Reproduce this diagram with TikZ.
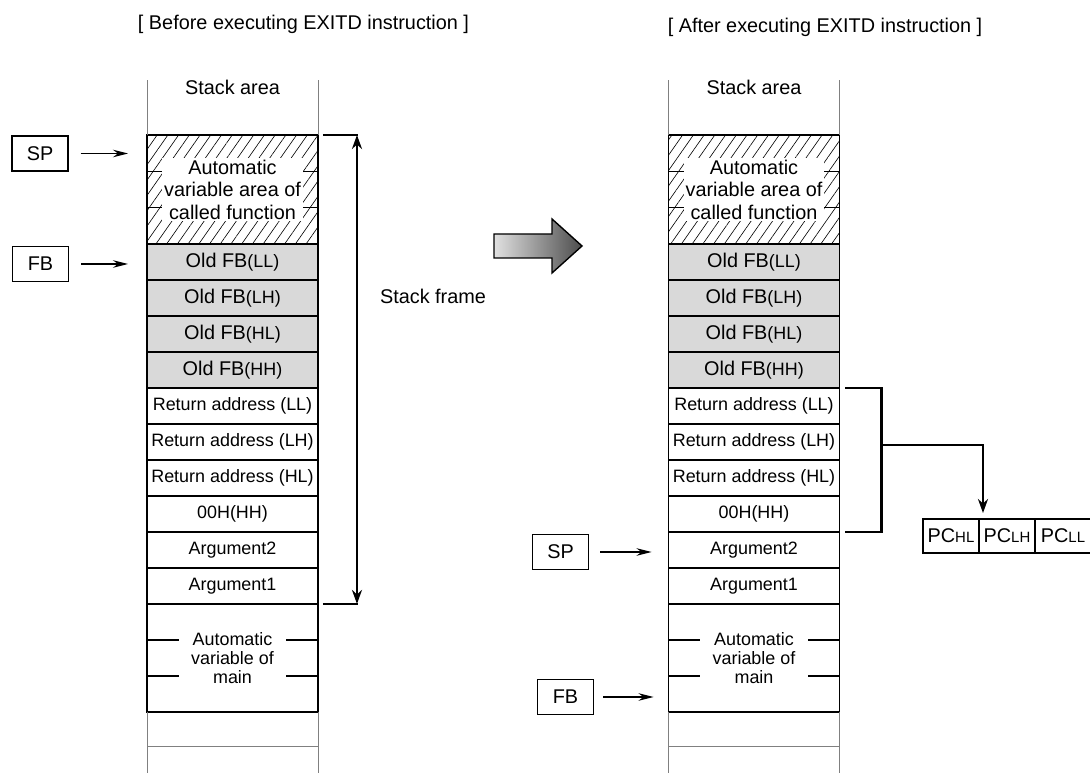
\documentclass[tikz,border=0pt]{standalone}
\usepackage{fontspec}
\setmainfont{Liberation Sans}
\usetikzlibrary{positioning,arrows.meta,calc,patterns.meta}

\newcommand\bigtxt{\fontsize{11.3}{12.8}\selectfont}
\newcommand\smalltxt{\fontsize{10.2}{10.8}\selectfont}
\newcommand\subtxt{\fontsize{8.5}{10}\selectfont}

\begin{document}
\begin{tikzpicture}[
    x=0.02cm, y=-0.02cm,
    font=\bigtxt,
    cell/.style={
        draw,
        line width=0.8pt,
        outer sep=0pt,
        inner sep=0pt,
        minimum width=3.42cm,
        minimum height=0.72cm,
        font=\smalltxt
    },
    oldcell/.style={cell, fill=black!15, font=\bigtxt},
    hatchcell/.style={
        cell,
        minimum height=2.18cm,
        pattern={Lines[angle=55,distance=5pt,line width=0.35pt]}
    },
    maincell/.style={cell, minimum height=2.16cm},
    coverbox/.style={fill=white, align=center, inner sep=1pt, minimum width=#1},
    coverbox/.default=2.8cm,
    regbox/.style={
        draw,
        line width=0.6pt,
        inner sep=0pt,
        minimum width=1.12cm,
        minimum height=0.7cm
    },
    pccell/.style={
        draw,
        line width=0.8pt,
        outer sep=0pt,
        inner sep=0pt,
        minimum width=1.12cm,
        minimum height=0.68cm
    },
    rail/.style={draw=black!50, line width=0.5pt},
    ptr/.style={-{Stealth[length=3mm,width=1.5mm]}, line width=0.8pt},
    tick/.style={line width=1.5pt},
    framearrow/.style={{Stealth[length=2.8mm,width=2mm]}-{Stealth[length=2.8mm,width=2mm]}, line width=1.5pt},
    pcarrow/.style={-{Stealth[length=2.8mm,width=2mm]}, line width=1.5pt}
]
\useasboundingbox (0,0) rectangle (1090,773);

% titles
\node (ltitle) at (303.5,24) {[ Before executing EXITD instruction ]};
\node (rtitle) at (825,27) {[ After executing EXITD instruction ]};

% ---- stack before EXITD
\node (lhead) at (232.5,87) {Stack area};
\node[hatchcell] (lcalled) at (232.5,189.5) {};
\draw[line width=0.8pt] ($(lcalled.north west)!1/3!(lcalled.south west)$) -- ($(lcalled.north east)!1/3!(lcalled.south east)$);
\draw[line width=0.8pt] ($(lcalled.north west)!2/3!(lcalled.south west)$) -- ($(lcalled.north east)!2/3!(lcalled.south east)$);
\node[coverbox] (lcalledtxt) at (lcalled) {Automatic\\variable area of\\called function};
\node[oldcell, below=0pt of lcalled] (lfbll) {Old FB{\smalltxt(LL)}};
\node[oldcell, below=0pt of lfbll] (lfblh) {Old FB{\smalltxt(LH)}};
\node[oldcell, below=0pt of lfblh] (lfbhl) {Old FB{\smalltxt(HL)}};
\node[oldcell, below=0pt of lfbhl] (lfbhh) {Old FB{\smalltxt(HH)}};
\node[cell, below=0pt of lfbhh] (lretll) {Return address (LL)};
\node[cell, below=0pt of lretll] (lretlh) {Return address (LH)};
\node[cell, below=0pt of lretlh] (lrethl) {Return address (HL)};
\node[cell, below=0pt of lrethl] (lhh) {00H(HH)};
\node[cell, below=0pt of lhh] (larg2) {Argument2};
\node[cell, below=0pt of larg2] (larg1) {Argument1};
\node[maincell, below=0pt of larg1] (lmain) {};
\draw[line width=0.8pt] ($(lmain.north west)!1/3!(lmain.south west)$) -- ($(lmain.north east)!1/3!(lmain.south east)$);
\draw[line width=0.8pt] ($(lmain.north west)!2/3!(lmain.south west)$) -- ($(lmain.north east)!2/3!(lmain.south east)$);
\node[coverbox=2.16cm, font=\smalltxt] (lmaintxt) at (lmain) {Automatic\\variable of\\main};
\draw[rail] (lcalled.north west) -- ++(0,-55) (lcalled.north east) -- ++(0,-55);
\draw[rail] (lmain.south west) -- ++(0,61) (lmain.south east) -- ++(0,61);
\draw[rail] ($(lmain.south west)+(0,35)$) -- ($(lmain.south east)+(0,35)$);

\node[regbox] (lsp) at (40,153.5) {SP};
\node[regbox] (lfb) at (40.5,264) {FB};
\draw[ptr] ($(lsp.east)+(12,0)$) -- ($(lsp.east -| lcalled.west)+(-19,0)$);
\draw[ptr] ($(lfb.east)+(12,0)$) -- ($(lfb.east -| lcalled.west)+(-19,0)$);

% stack frame
\draw[tick] ($(lcalled.north east)+(5,0)$) -- ++(35,0);
\draw[tick] ($(larg1.south east)+(5,0)$) -- ++(35,0);
\draw[framearrow] ($(larg1.south east)+(39,0)$) -- ($(lcalled.north east)+(39,0)$);
\node (framelbl) at (433,296) {Stack frame};

% big arrow
\path[draw, line width=0.8pt, left color=black!12, right color=black!70]
    (494,234) -- (552,234) -- (552,219) -- (582,246) -- (552,273) -- (552,258) -- (494,258) -- cycle;

% ---- stack after EXITD
\node (rhead) at (754,87) {Stack area};
\node[hatchcell] (rcalled) at (754,189.5) {};
\draw[line width=0.8pt] ($(rcalled.north west)!1/3!(rcalled.south west)$) -- ($(rcalled.north east)!1/3!(rcalled.south east)$);
\draw[line width=0.8pt] ($(rcalled.north west)!2/3!(rcalled.south west)$) -- ($(rcalled.north east)!2/3!(rcalled.south east)$);
\node[coverbox] (rcalledtxt) at (rcalled) {Automatic\\variable area of\\called function};
\node[oldcell, below=0pt of rcalled] (rfbll) {Old FB{\smalltxt(LL)}};
\node[oldcell, below=0pt of rfbll] (rfblh) {Old FB{\smalltxt(LH)}};
\node[oldcell, below=0pt of rfblh] (rfbhl) {Old FB{\smalltxt(HL)}};
\node[oldcell, below=0pt of rfbhl] (rfbhh) {Old FB{\smalltxt(HH)}};
\node[cell, below=0pt of rfbhh] (rretll) {Return address (LL)};
\node[cell, below=0pt of rretll] (rretlh) {Return address (LH)};
\node[cell, below=0pt of rretlh] (rrethl) {Return address (HL)};
\node[cell, below=0pt of rrethl] (rhh) {00H(HH)};
\node[cell, below=0pt of rhh] (rarg2) {Argument2};
\node[cell, below=0pt of rarg2] (rarg1) {Argument1};
\node[maincell, below=0pt of rarg1] (rmain) {};
\draw[line width=0.8pt] ($(rmain.north west)!1/3!(rmain.south west)$) -- ($(rmain.north east)!1/3!(rmain.south east)$);
\draw[line width=0.8pt] ($(rmain.north west)!2/3!(rmain.south west)$) -- ($(rmain.north east)!2/3!(rmain.south east)$);
\node[coverbox=2.16cm, font=\smalltxt] (rmaintxt) at (rmain) {Automatic\\variable of\\main};
\draw[rail] (rcalled.north west) -- ++(0,-55) (rcalled.north east) -- ++(0,-55);
\draw[rail] (rmain.south west) -- ++(0,61) (rmain.south east) -- ++(0,61);
\draw[rail] ($(rmain.south west)+(0,35)$) -- ($(rmain.south east)+(0,35)$);

\node[regbox] (rsp) at (560.5,552) {SP};
\node[regbox] (rfb) at (565.5,697) {FB};
\draw[ptr] ($(rsp.east)+(11,0)$) -- ($(rsp.east -| rcalled.west)+(-17,0)$);
\draw[ptr] ($(rfb.east)+(9,0)$) -- ($(rfb.east -| rcalled.west)+(-15,0)$);

% return address to PC
\node[pccell] (pchl) at (951,536) {PC{\subtxt HL}};
\node[pccell, right=0pt of pchl] (pclh) {PC{\subtxt LH}};
\node[pccell, right=0pt of pclh] (pcll) {PC{\subtxt LL}};
\draw[tick] ($(rretll.north east)+(6,0)$) -| ($(rhh.south east)+(42,0)$) -- ($(rhh.south east)+(6,0)$);
\draw[pcarrow] ($(rretll.north east)+(42,57)$) -| ($(pchl.north east)+(4,-6)$);

\end{tikzpicture}
\end{document}
